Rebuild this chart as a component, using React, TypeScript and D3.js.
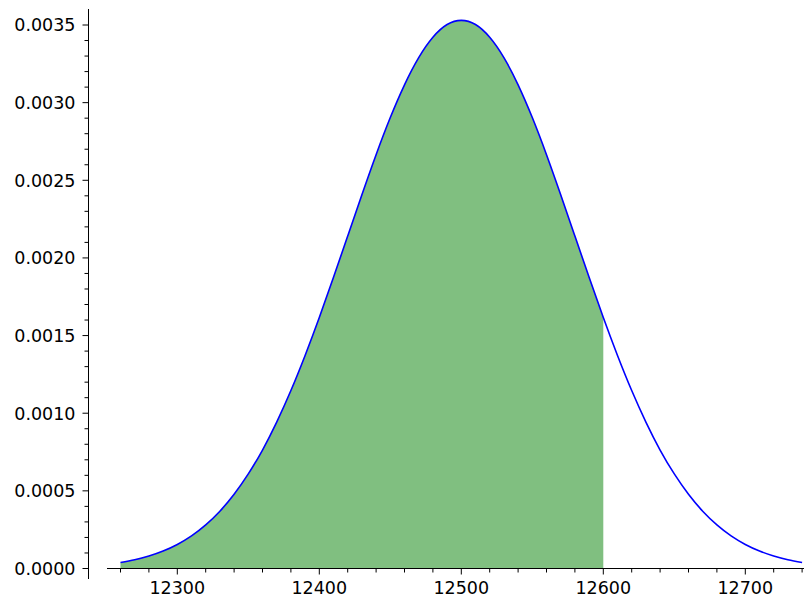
import React from "react";
import * as d3 from "d3";

const xs: number[] = [
  12260, 12270, 12280, 12290, 12300, 12310, 12320, 12330, 12340, 12350,
  12360, 12370, 12380, 12390, 12400, 12410, 12420, 12430, 12440, 12450,
  12460, 12470, 12480, 12490, 12500, 12510, 12520, 12530, 12540, 12550,
  12560, 12570, 12580, 12590, 12600, 12610, 12620, 12630, 12640, 12650,
  12660, 12670, 12680, 12690, 12700, 12710, 12720, 12730, 12740,
];
const ys: number[] = [
  0.0000392, 0.0000566, 0.0000805, 0.0001126, 0.000155, 0.00021, 0.000281, 0.000369, 0.000478, 0.000609,
  0.000763, 0.000943, 0.001146, 0.001372, 0.001616, 0.001875, 0.002141, 0.002407, 0.002665, 0.002904,
  0.003115, 0.00329, 0.003421, 0.003503, 0.00353, 0.003503, 0.003421, 0.00329, 0.003115, 0.002904,
  0.002665, 0.002407, 0.002141, 0.001875, 0.001616, 0.001372, 0.001146, 0.000943, 0.000763, 0.000609,
  0.000478, 0.000369, 0.000281, 0.00021, 0.000155, 0.0001126, 0.0000805, 0.0000566, 0.0000392,
];
const fillEnd = 12600;
const xTicks: number[] = [12300, 12400, 12500, 12600, 12700];
const yTicks: number[] = [0, 0.0005, 0.001, 0.0015, 0.002, 0.0025, 0.003, 0.0035];

export default function App() {
  const W = 804, H = 601;
  const x = d3.scaleLinear().domain([12300, 12700]).range([177.3, 745.3]);
  const y = d3.scaleLinear().domain([0, 0.0035]).range([568.5, 25]);
  const pts = xs.map((v, i) => [v, ys[i]] as [number, number]);
  const line = d3.line<[number, number]>().x(d => x(d[0])).y(d => y(d[1])).curve(d3.curveNatural);
  const fillPts = pts.filter(d => d[0] <= fillEnd);
  const area = d3.area<[number, number]>().x(d => x(d[0])).y0(y(0)).y1(d => y(d[1])).curve(d3.curveNatural);
  const xMinor = d3.range(12240, 12760, 20).filter(v => !xTicks.includes(v) && x(v) > 107 && x(v) < 804);
  const yMinor = d3.range(0, 36).map(i => i * 0.0001).filter(v => Math.round(v * 10000) % 5 !== 0);
  const font = "DejaVu Sans, sans-serif";
  const axisX = 88.5;
  const axisY = y(0);
  return (
    <svg width={W} height={H} style={{ position: "absolute", left: 0, top: 0, background: "#fff" }}>
      <path d={area(fillPts) || ""} fill="#80bf80" stroke="none" />
      <path d={line(pts) || ""} fill="none" stroke="#0000ff" strokeWidth={1.6} />
      {/* x axis */}
      <line x1={107} x2={804} y1={axisY} y2={axisY} stroke="#000" strokeWidth={1} />
      {xTicks.map(v => (
        <g key={"xt" + v}>
          <line x1={x(v)} x2={x(v)} y1={axisY} y2={axisY + 6} stroke="#000" strokeWidth={1} />
          <text x={x(v)} y={594.3} textAnchor="middle" fontFamily={font} fontSize={17.5} fill="#000">{v}</text>
        </g>
      ))}
      {xMinor.map(v => (
        <line key={"xm" + v} x1={x(v)} x2={x(v)} y1={axisY} y2={axisY + 4} stroke="#000" strokeWidth={1} />
      ))}
      {/* y axis */}
      <line x1={axisX} x2={axisX} y1={9} y2={579} stroke="#000" strokeWidth={1} />
      {yTicks.map(v => (
        <g key={"yt" + v}>
          <line x1={axisX - 6} x2={axisX} y1={y(v)} y2={y(v)} stroke="#000" strokeWidth={1} />
          <text x={75.5} y={y(v)} dy="0.36em" textAnchor="end" fontFamily={font} fontSize={17.5} fill="#000">{v.toFixed(4)}</text>
        </g>
      ))}
      {yMinor.map(v => (
        <line key={"ym" + v} x1={axisX - 4} x2={axisX} y1={y(v)} y2={y(v)} stroke="#000" strokeWidth={1} />
      ))}
    </svg>
  );
}
